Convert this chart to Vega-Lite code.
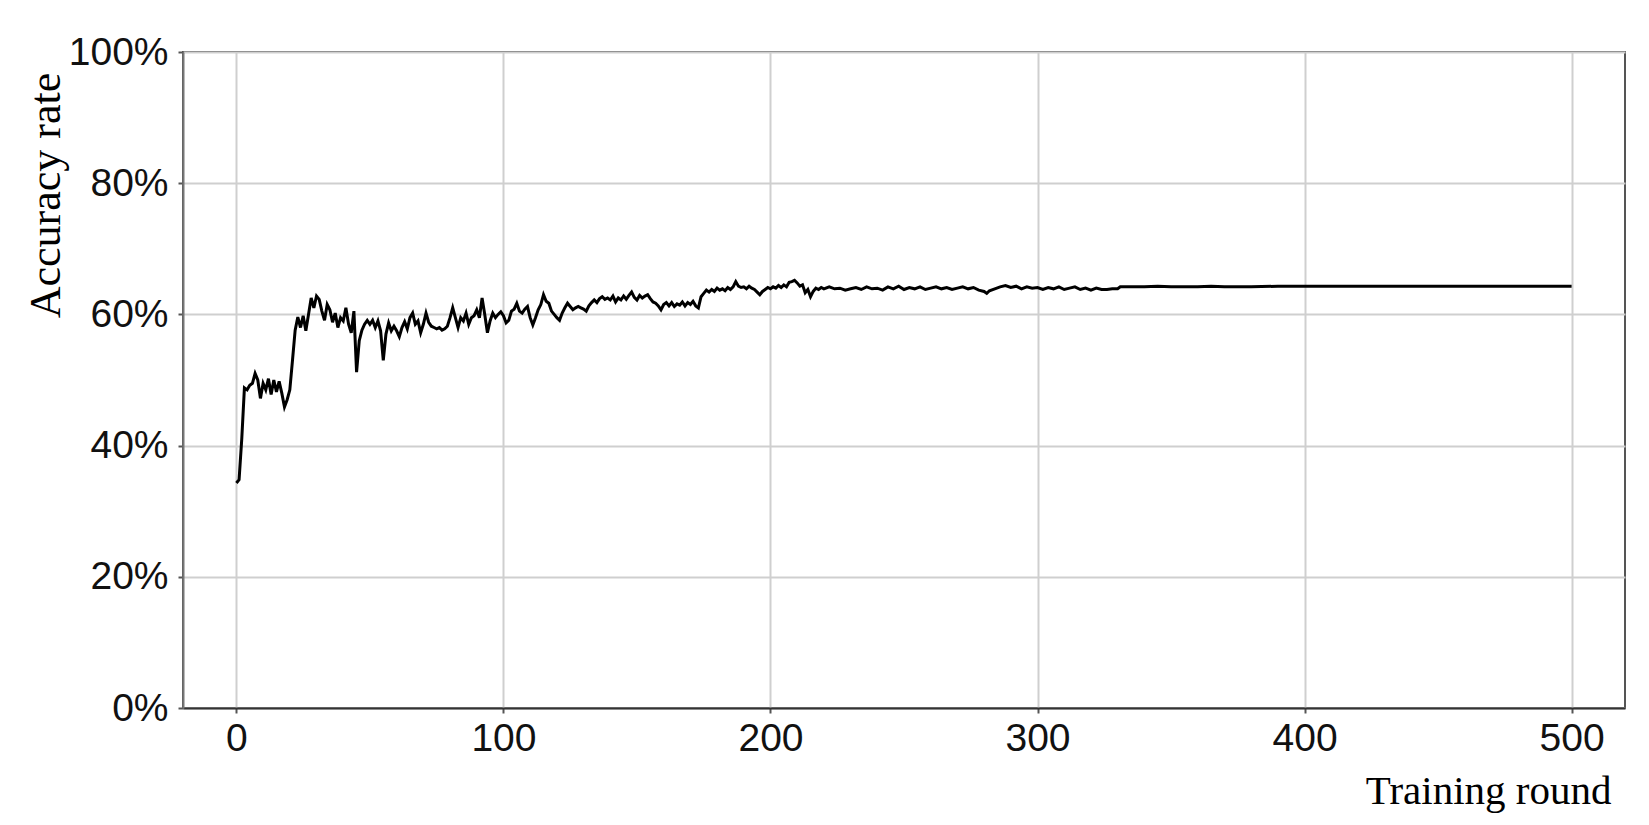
{
  "$schema": "https://vega.github.io/schema/vega-lite/v6.json",
  "autosize": {"type": "none"},
  "padding": {"left": 183, "top": 52, "right": 24, "bottom": 117},
  "width": 1442,
  "height": 656,
  "background": "white",
  "config": {
    "view": {"stroke": "#555", "strokeWidth": 2},
    "axis": {
      "labelFont": "Liberation Sans",
      "labelFontSize": 39,
      "labelColor": "#111",
      "gridColor": "#cfcfcf",
      "gridWidth": 2,
      "tickColor": "#555",
      "tickSize": 5,
      "tickWidth": 2,
      "domainColor": "#444",
      "domainWidth": 2,
      "titleFont": "Liberation Serif",
      "titleColor": "#000",
      "titleFontWeight": "normal"
    }
  },
  "data": {"values": [
    {"round":0,"acc":34.3},{"round":1,"acc":34.8},{"round":2,"acc":41},{"round":3,"acc":48.8},{"round":4,"acc":48.5},{"round":5,"acc":49.2},{"round":6,"acc":49.5},{"round":7,"acc":51},{"round":8,"acc":50},{"round":9,"acc":47.2},
    {"round":10,"acc":49.5},{"round":11,"acc":48.5},{"round":12,"acc":50.2},{"round":13,"acc":47.8},{"round":14,"acc":50},{"round":15,"acc":48.2},{"round":16,"acc":49.8},{"round":17,"acc":48},{"round":18,"acc":45.9},{"round":19,"acc":47},
    {"round":20,"acc":48.5},{"round":21,"acc":53},{"round":22,"acc":57.6},{"round":23,"acc":59.6},{"round":24,"acc":58},{"round":25,"acc":59.8},{"round":26,"acc":57.5},{"round":27,"acc":60},{"round":28,"acc":62.5},{"round":29,"acc":61},
    {"round":30,"acc":62.8},{"round":31,"acc":62.3},{"round":32,"acc":60.5},{"round":33,"acc":59.1},{"round":34,"acc":61.5},{"round":35,"acc":60.7},{"round":36,"acc":58.8},{"round":37,"acc":60.2},{"round":38,"acc":58},{"round":39,"acc":59.5},
    {"round":40,"acc":59},{"round":41,"acc":61},{"round":42,"acc":58.5},{"round":43,"acc":57.2},{"round":44,"acc":60.5},{"round":45,"acc":51.2},{"round":46,"acc":56},{"round":47,"acc":57.6},{"round":48,"acc":58.5},{"round":49,"acc":59.1},
    {"round":50,"acc":58.5},{"round":51,"acc":59.1},{"round":52,"acc":58},{"round":53,"acc":59},{"round":54,"acc":57.5},{"round":55,"acc":53},{"round":56,"acc":57},{"round":57,"acc":58.7},{"round":58,"acc":57.5},{"round":59,"acc":58.2},
    {"round":60,"acc":57.5},{"round":61,"acc":56.6},{"round":62,"acc":58},{"round":63,"acc":58.9},{"round":64,"acc":57.8},{"round":65,"acc":59.5},{"round":66,"acc":60.2},{"round":67,"acc":58.5},{"round":68,"acc":59},{"round":69,"acc":57.2},
    {"round":70,"acc":58.5},{"round":71,"acc":60.2},{"round":72,"acc":58.8},{"round":73,"acc":58.2},{"round":74,"acc":58},{"round":75,"acc":57.8},{"round":76,"acc":58},{"round":77,"acc":57.6},{"round":78,"acc":57.8},{"round":79,"acc":58.2},
    {"round":80,"acc":59.5},{"round":81,"acc":61},{"round":82,"acc":59.5},{"round":83,"acc":58},{"round":84,"acc":59.5},{"round":85,"acc":59},{"round":86,"acc":60.2},{"round":87,"acc":58.5},{"round":88,"acc":59.5},{"round":89,"acc":59.8},
    {"round":90,"acc":60.7},{"round":91,"acc":59.5},{"round":92,"acc":62.5},{"round":93,"acc":60},{"round":94,"acc":57.2},{"round":95,"acc":59},{"round":96,"acc":60.2},{"round":97,"acc":59.5},{"round":98,"acc":60},{"round":99,"acc":60.4},
    {"round":100,"acc":59.8},{"round":101,"acc":58.7},{"round":102,"acc":59.1},{"round":103,"acc":60.5},{"round":104,"acc":60.8},{"round":105,"acc":61.7},{"round":106,"acc":60.5},{"round":107,"acc":60.2},{"round":108,"acc":60.8},{"round":109,"acc":61.2},
    {"round":110,"acc":59.5},{"round":111,"acc":58.4},{"round":112,"acc":59.5},{"round":113,"acc":60.7},{"round":114,"acc":61.5},{"round":115,"acc":63},{"round":116,"acc":62},{"round":117,"acc":61.7},{"round":118,"acc":60.5},{"round":119,"acc":60},
    {"round":120,"acc":59.5},{"round":121,"acc":59.1},{"round":122,"acc":60.2},{"round":123,"acc":61},{"round":124,"acc":61.7},{"round":125,"acc":61.2},{"round":126,"acc":60.7},{"round":127,"acc":61},{"round":128,"acc":61.2},{"round":129,"acc":61},
    {"round":130,"acc":60.8},{"round":131,"acc":60.5},{"round":132,"acc":61.3},{"round":133,"acc":61.8},{"round":134,"acc":62.2},{"round":135,"acc":61.8},{"round":136,"acc":62.4},{"round":137,"acc":62.7},{"round":138,"acc":62.3},{"round":139,"acc":62.5},
    {"round":140,"acc":62.2},{"round":141,"acc":62.8},{"round":142,"acc":61.9},{"round":143,"acc":62.5},{"round":144,"acc":62.2},{"round":145,"acc":62.8},{"round":146,"acc":62.3},{"round":147,"acc":62.9},{"round":148,"acc":63.4},{"round":149,"acc":62.6},
    {"round":150,"acc":62.2},{"round":151,"acc":62.9},{"round":152,"acc":62.5},{"round":153,"acc":62.8},{"round":154,"acc":63},{"round":155,"acc":62.4},{"round":156,"acc":61.9},{"round":157,"acc":61.7},{"round":158,"acc":61.3},{"round":159,"acc":60.7},
    {"round":160,"acc":61.5},{"round":161,"acc":61.8},{"round":162,"acc":61.3},{"round":163,"acc":61.8},{"round":164,"acc":61.2},{"round":165,"acc":61.6},{"round":166,"acc":61.4},{"round":167,"acc":61.9},{"round":168,"acc":61.3},{"round":169,"acc":61.8},
    {"round":170,"acc":61.5},{"round":171,"acc":62},{"round":172,"acc":61.3},{"round":173,"acc":61},{"round":174,"acc":62.7},{"round":175,"acc":63.2},{"round":176,"acc":63.7},{"round":177,"acc":63.4},{"round":178,"acc":63.8},{"round":179,"acc":63.5},
    {"round":180,"acc":64},{"round":181,"acc":63.7},{"round":182,"acc":63.9},{"round":183,"acc":63.6},{"round":184,"acc":64.1},{"round":185,"acc":63.8},{"round":186,"acc":64.2},{"round":187,"acc":65},{"round":188,"acc":64.3},{"round":189,"acc":64.1},
    {"round":190,"acc":64.2},{"round":191,"acc":63.9},{"round":192,"acc":64.3},{"round":193,"acc":64},{"round":194,"acc":63.8},{"round":195,"acc":63.4},{"round":196,"acc":63},{"round":197,"acc":63.5},{"round":198,"acc":63.8},{"round":199,"acc":64.1},
    {"round":200,"acc":63.9},{"round":201,"acc":64.2},{"round":202,"acc":64},{"round":203,"acc":64.4},{"round":204,"acc":64.1},{"round":205,"acc":64.5},{"round":206,"acc":64.2},{"round":207,"acc":64.9},{"round":208,"acc":65},{"round":209,"acc":65.2},
    {"round":210,"acc":64.8},{"round":211,"acc":64.3},{"round":212,"acc":64.5},{"round":213,"acc":63.3},{"round":214,"acc":63.8},{"round":215,"acc":62.7},{"round":216,"acc":63.5},{"round":217,"acc":64},{"round":218,"acc":63.8},{"round":219,"acc":64.1},
    {"round":220,"acc":63.9},{"round":222,"acc":64.2},{"round":224,"acc":63.9},{"round":226,"acc":64},{"round":228,"acc":63.7},{"round":230,"acc":63.9},{"round":232,"acc":64.1},{"round":234,"acc":63.8},{"round":236,"acc":64.2},{"round":238,"acc":63.9},
    {"round":240,"acc":64},{"round":242,"acc":63.7},{"round":244,"acc":64.2},{"round":246,"acc":63.9},{"round":248,"acc":64.3},{"round":250,"acc":63.8},{"round":252,"acc":64.1},{"round":254,"acc":63.9},{"round":256,"acc":64.2},{"round":258,"acc":63.8},
    {"round":260,"acc":64},{"round":262,"acc":64.2},{"round":264,"acc":63.9},{"round":266,"acc":64.1},{"round":268,"acc":63.8},{"round":270,"acc":64},{"round":272,"acc":64.2},{"round":274,"acc":63.9},{"round":276,"acc":64.1},{"round":278,"acc":63.7},
    {"round":280,"acc":63.5},{"round":281,"acc":63.2},{"round":282,"acc":63.6},{"round":284,"acc":63.9},{"round":286,"acc":64.2},{"round":288,"acc":64.4},{"round":290,"acc":64.1},{"round":292,"acc":64.3},{"round":294,"acc":63.9},{"round":296,"acc":64.2},
    {"round":298,"acc":64},{"round":300,"acc":64.1},{"round":302,"acc":63.8},{"round":304,"acc":64.1},{"round":306,"acc":63.9},{"round":308,"acc":64.2},{"round":310,"acc":63.8},{"round":312,"acc":64},{"round":314,"acc":64.2},{"round":316,"acc":63.8},
    {"round":318,"acc":64},{"round":320,"acc":63.7},{"round":322,"acc":64},{"round":324,"acc":63.8},{"round":326,"acc":63.8},{"round":328,"acc":63.9},{"round":330,"acc":63.9},{"round":331,"acc":64.2},{"round":340,"acc":64.2},{"round":345,"acc":64.3},
    {"round":350,"acc":64.2},{"round":360,"acc":64.2},{"round":365,"acc":64.3},{"round":370,"acc":64.2},{"round":380,"acc":64.2},{"round":390,"acc":64.3},{"round":400,"acc":64.3},{"round":450,"acc":64.3},{"round":500,"acc":64.3}
  ]},
  "mark": {"type": "line", "color": "#000", "strokeWidth": 3, "interpolate": "linear"},
  "encoding": {
    "x": {
      "field": "round", "type": "quantitative",
      "scale": {"domain": [-20, 520], "nice": false, "zero": false},
      "axis": {
        "values": [0, 100, 200, 300, 400, 500],
        "title": "Training round",
        "titleFontSize": 41,
        "titleX": 1428, "titleY": 83,
        "titleAlign": "right", "titleBaseline": "middle",
        "titleAngle": 0,
        "labelPadding": 6,
        "domainColor": "#333"
      }
    },
    "y": {
      "field": "acc", "type": "quantitative",
      "scale": {"domain": [0, 100], "nice": false},
      "axis": {
        "values": [0, 20, 40, 60, 80, 100],
        "labelExpr": "datum.value + '%'",
        "title": "Accuracy rate",
        "titleFontSize": 44,
        "titleX": -137, "titleY": 143,
        "titleAlign": "center", "titleBaseline": "middle",
        "titleAngle": -90,
        "labelPadding": 10,
        "domainColor": "#777"
      }
    }
  }
}
